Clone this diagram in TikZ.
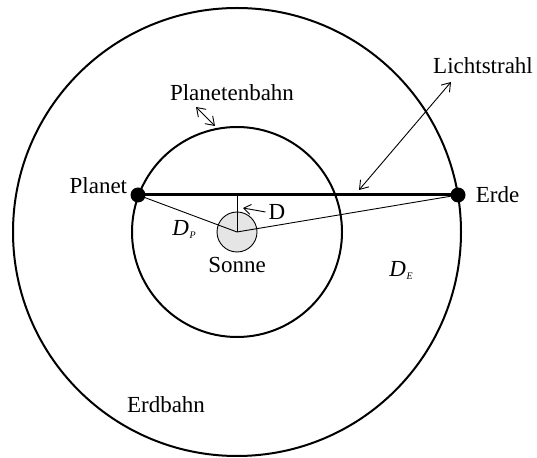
\documentclass[tikz,border=0pt]{standalone}
\usepackage{fontspec}
\setmainfont{Liberation Serif}
\usetikzlibrary{arrows.meta,positioning}

\newcommand{\abst}[1]{\textit{D}\kern0.5pt\raisebox{-3pt}{\fontsize{10}{10}\selectfont\itshape #1}}

\begin{document}
\begin{tikzpicture}[x=1pt, y=1pt, font=\fontsize{23}{27}\selectfont,
	bahn/.style={line width=2pt},
	duenn/.style={line width=0.9pt},
	pfeil/.style={line width=0.9pt, -{Straight Barb[length=7pt,width=10pt]}},
	doppelpfeil/.style={line width=0.9pt, {Straight Barb[length=8pt,width=11pt]}-{Straight Barb[length=8pt,width=11pt]}},
	dot/.style={circle, fill=black, inner sep=0pt, minimum size=15pt},
	beschr/.style={inner sep=0pt}]
	\useasboundingbox (0,0) rectangle (537,457);
	% Bahnen
	\coordinate (mitte) at (237,225);
	\draw[bahn] (mitte) circle (224);
	\draw[bahn] (mitte) circle (105);
	\node[circle, draw, fill=gray!20, line width=0.9pt, minimum size=40pt, inner sep=0pt] (sonne) at (mitte) {};
	% Planet und Erde
	\node[dot] (planet) at (138,262) {};
	\node[dot] (erde) at (458,262) {};
	\coordinate (fuss) at (237,262);
	\draw[line width=3pt] (planet.center) -- (erde.center);
	\draw[duenn] (fuss) -- (sonne.center);
	\draw[duenn] (planet.center) -- (sonne.center) -- (erde.center);
	% Beschriftung
	\node[beschr, left=3pt of planet, yshift=9pt] (planetlbl) {Planet};
	\node[beschr, right=10pt of erde] (erdelbl) {Erde};
	\node[beschr, below=5pt of sonne] (sonnelbl) {Sonne};
	\node[beschr] (dlbl) at (277,245) {D};
	\coordinate (dspitze) at (243,249);
	\draw[pfeil] ([xshift=-3pt]dlbl.west) -- (dspitze);
	\node[beschr] (dp) at (184,228) {\abst{P}};
	\node[beschr] (de) at (401,187) {\abst{E}};
	\node[beschr, anchor=west] (lichtlbl) at (433,391) {Lichtstrahl};
	\coordinate (lichtunten) at (359,267);
	\coordinate (lichtoben) at (451,375);
	\draw[doppelpfeil] (lichtunten) -- (lichtoben);
	\node[beschr] (bahnlbl) at (232,364) {Planetenbahn};
	\coordinate (bahnoben) at (196,350);
	\coordinate (bahnunten) at (215,331);
	\draw[doppelpfeil] (bahnoben) -- (bahnunten);
	\node[beschr] (erdbahnlbl) at (166,52) {Erdbahn};
\end{tikzpicture}
\end{document}
